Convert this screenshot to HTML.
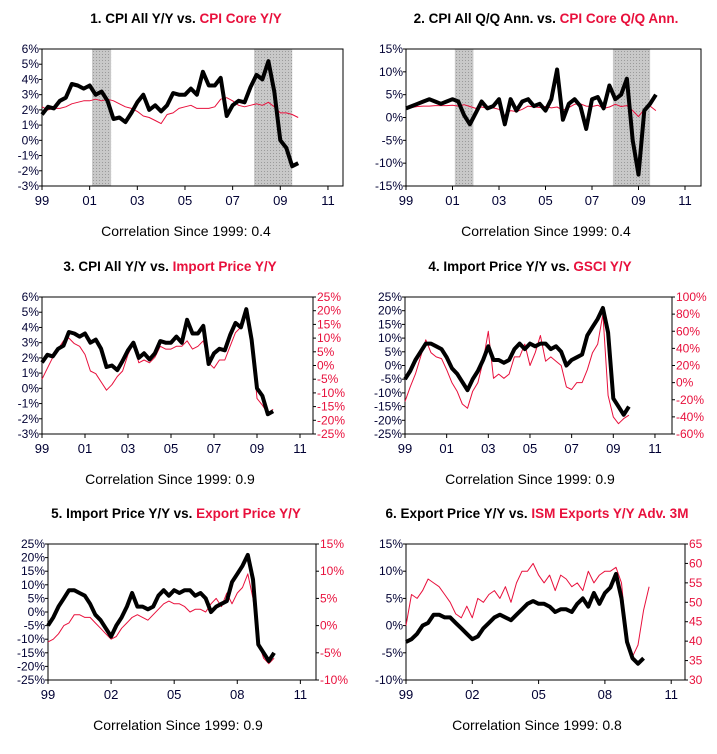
<!DOCTYPE html>
<html><head><meta charset="utf-8"><style>
body{margin:0;background:#fff;}
svg{display:block;font-family:"Liberation Sans",Arial,sans-serif;}
</style></head><body>
<svg id="c" width="717" height="754" viewBox="0 0 717 754">
<defs><pattern id="dots" width="3" height="3" patternUnits="userSpaceOnUse"><rect width="3" height="3" fill="#c8c8c8"/><rect width="1" height="1" fill="#9a9a9a"/></pattern></defs>
</svg>
<script>
// quarterly data starting 1999.0
const cpiAllYY=[1.7,2.2,2.1,2.6,2.8,3.7,3.6,3.4,3.6,3.0,3.2,2.6,1.4,1.5,1.2,1.8,2.5,3.0,2.0,2.3,1.9,2.3,3.1,3.0,3.0,3.4,3.0,4.5,3.6,3.6,4.1,1.6,2.3,2.6,2.5,3.5,4.3,4.0,5.2,3.2,0.0,-0.5,-1.7,-1.5];
const cpiCoreYY=[2.2,2.0,2.1,2.1,2.2,2.4,2.5,2.6,2.6,2.7,2.6,2.7,2.6,2.4,2.2,2.1,1.9,1.6,1.5,1.3,1.1,1.7,1.8,2.1,2.2,2.3,2.1,2.1,2.1,2.2,2.7,2.8,2.6,2.3,2.2,2.3,2.4,2.3,2.5,2.2,1.8,1.8,1.7,1.5];
const cpiAllQQ=[2.0,2.5,3.0,3.5,4.0,3.5,3.0,3.5,4.0,3.5,0.5,-1.5,1.0,3.5,2.0,2.5,4.0,-1.5,4.0,1.5,3.5,4.0,2.5,3.0,1.5,4.0,10.5,-0.5,3.0,4.0,2.5,-2.5,4.0,4.5,2.0,7.0,4.0,5.0,8.5,-5.0,-12.5,1.5,3.0,5.0];
const cpiCoreQQ=[2.3,2.2,2.4,2.5,2.5,2.6,2.6,2.6,2.7,2.5,2.8,2.4,2.0,2.3,2.0,2.1,1.8,0.5,1.5,1.3,1.8,2.5,2.3,2.2,2.4,2.1,2.3,1.6,2.2,2.9,3.0,2.5,2.4,2.7,2.0,2.3,2.9,2.4,2.6,1.5,0.2,1.8,2.5,1.5];
const importYY=[-5,-2,2,5,8,8,7,6,3,-1,-3,-6,-9,-5,-2,2,7,2,2,1,2,6,8,6,8,7,8,8,6,7,5,0,2,3,4,11,14,17,21,12,-12,-15,-18,-15];
const importYYalt=[-5,-1,3,6,9,10,8,7,4,-2,-3,-6,-9,-7,-4,-2,4,8,1,2,1,3,7,6,6,7,7,9,6,7,9,1,-1,2,2,7,12,14,21,10,-12,-14.5,-17.5,-16];
const gsciYY=[-22,-5,10,30,50,35,30,28,15,0,-10,-25,-30,-10,0,25,60,5,10,5,10,30,30,45,20,35,55,25,30,25,20,-5,-8,0,0,15,35,45,80,-15,-40,-48,-42,-38];
const exportYY=[-3,-2.5,-1.5,0,0.5,2,2,1.5,1.5,0.5,-0.5,-1.5,-2.5,-2,-0.5,0.5,1.5,2,1.5,1,2,3,4,4.5,4,4,3.5,2.5,3,3,2.5,4,5,3.5,6,4,6,7,9.5,5,-3,-6,-7,-6];
const ismExportsAdv=[44,52,51,53,56,55,54,52,50,47,46,49,46,51,50,52,53,51,54,50,55,58,58,60,57,55,57,53,57,56,54,55,53,58,55,57,58,58,59,55,40,36,39,48,54];
const pctTicks1=[-3,-2,-1,0,1,2,3,4,5,6];
const pctTicks15=[-15,-10,-5,0,5,10,15];
const pctTicks25=[-25,-20,-15,-10,-5,0,5,10,15,20,25];
const pctTicks60=[-60,-40,-20,0,20,40,60,80,100];
const pctTicks10=[-10,-5,0,5,10,15];
const ismTicks=[30,35,40,45,50,55,60,65];
const yearTicks2=[1999,2001,2003,2005,2007,2009,2011];
const yearTicks3=[1999,2002,2005,2008,2011];
const recessions=[[2001.1,2001.9],[2007.9,2009.5]];

const NS="http://www.w3.org/2000/svg";
const svg=document.getElementById('c');
const RED="#e8103c";
function el(tag,attrs,parent){const e=document.createElementNS(NS,tag);for(const k in attrs)e.setAttribute(k,attrs[k]);(parent||svg).appendChild(e);return e;}

function panel(p){
  const g=el('g',{});
  
  
  const xs=t=>p.L+(t-1999)*p.ppy;
  const yl=v=>p.B-(v-p.lmin)/(p.lmax-p.lmin)*(p.B-p.T);
  const yr=v=>p.B-(v-p.rmin)/(p.rmax-p.rmin)*(p.B-p.T);
  if(p.shade){recessions.forEach(r=>{const s=el('rect',{x:xs(r[0]),y:p.T,width:xs(r[1])-xs(r[0]),height:p.B-p.T,fill:'url(#dots)'},g);
    
    });}
  const fr=el('rect',{x:p.L,y:p.T,width:p.R-p.L,height:p.B-p.T,fill:'none',stroke:'#000','stroke-width':1},g);
  
  
  p.lticks.forEach(v=>{const y=yl(v);el('line',{x1:p.L-3,x2:p.L,y1:y,y2:y,stroke:'#000'},g);
    const t=el('text',{x:p.L-3,y:y+4,'text-anchor':'end','font-size':12,fill:'#000033'},g);t.textContent=v+'%';
    
    });
  if(p.rticks){p.rticks.forEach(v=>{const y=yr(v);el('line',{x1:p.R,x2:p.R+3,y1:y,y2:y,stroke:'#000'},g);
    const t=el('text',{x:p.R+4,y:y+4,'font-size':12,fill:RED},g);t.textContent=v+(p.rpct?'%':'');
    
    });}
  p.xticks.forEach(v=>{const x=xs(v);el('line',{x1:x,x2:x,y1:p.B,y2:p.B+4,stroke:'#000'},g);
    const t=el('text',{x:x,y:p.B+19,'text-anchor':'middle','font-size':13,fill:'#000033'},g);t.textContent=String(v).slice(2);
    
    });
  function line(data,yf,col,w,nm){const pts=data.map((v,i)=>xs(1999+i*0.25).toFixed(1)+','+yf(v).toFixed(1)).join(' ');
    const l=el('polyline',{points:pts,fill:'none',stroke:col,'stroke-width':w,'stroke-linejoin':'round'},g);
    
    }
  line(p.red,p.redRight?yr:yl,RED,1,p.redName);
  line(p.black,yl,'#000',4,p.blackName);
  const t=el('text',{x:p.tx,y:p.T-26,'text-anchor':'middle','font-size':13.5,'font-weight':'bold',fill:'#000'},g);
  
  
  const a=el('tspan',{},t);a.textContent=p.t1;const b=el('tspan',{fill:RED},t);b.textContent=p.t2;
  const f=el('text',{x:p.fx,y:p.B+50,'text-anchor':'middle','font-size':14,fill:'#000'},g);f.textContent=p.foot;
  
  
}
panel({name:'panel-1-cpi-yy',L:42,R:343,T:49,B:186,ppy:23.83,lmin:-3,lmax:6,lticks:pctTicks1,xticks:yearTicks2,shade:true,
  black:cpiAllYY,red:cpiCoreYY,blackName:'cpi-all-yy-line',redName:'cpi-core-yy-line',tx:186,fx:186,
  t1:'1. CPI All Y/Y vs. ',t2:'CPI Core Y/Y',foot:'Correlation Since 1999: 0.4'});
panel({name:'panel-2-cpi-qq',L:406,R:701,T:49,B:186,ppy:23.25,lmin:-15,lmax:15,lticks:pctTicks15,xticks:yearTicks2,shade:true,
  black:cpiAllQQ,red:cpiCoreQQ,blackName:'cpi-all-qq-line',redName:'cpi-core-qq-line',tx:546,fx:546,
  t1:'2. CPI All Q/Q Ann. vs. ',t2:'CPI Core Q/Q Ann.',foot:'Correlation Since 1999: 0.4'});
panel({name:'panel-3-cpi-import',L:42,R:313,T:297,B:434,ppy:21.5,lmin:-3,lmax:6,lticks:pctTicks1,rmin:-25,rmax:25,rticks:pctTicks25,rpct:true,xticks:yearTicks2,
  black:cpiAllYY,red:importYYalt,redRight:true,blackName:'cpi-all-yy-line',redName:'import-price-yy-line',tx:170,fx:170,
  t1:'3. CPI All Y/Y vs. ',t2:'Import Price Y/Y',foot:'Correlation Since 1999: 0.9'});
panel({name:'panel-4-import-gsci',L:405,R:672,T:297,B:434,ppy:20.83,lmin:-25,lmax:25,lticks:pctTicks25,rmin:-60,rmax:100,rticks:pctTicks60,rpct:true,xticks:yearTicks2,
  black:importYY,red:gsciYY,redRight:true,blackName:'import-price-yy-line',redName:'gsci-yy-line',tx:530,fx:530,
  t1:'4. Import Price Y/Y vs. ',t2:'GSCI Y/Y',foot:'Correlation Since 1999: 0.9'});
panel({name:'panel-5-import-export',L:48,R:316,T:544,B:680,ppy:21.03,lmin:-25,lmax:25,lticks:pctTicks25,rmin:-10,rmax:15,rticks:pctTicks10,rpct:true,xticks:yearTicks3,
  black:importYY,red:exportYY,redRight:true,blackName:'import-price-yy-line',redName:'export-price-yy-line',tx:176,fx:178,
  t1:'5. Import Price Y/Y vs. ',t2:'Export Price Y/Y',foot:'Correlation Since 1999: 0.9'});
panel({name:'panel-6-export-ism',L:406,R:685,T:544,B:680,ppy:22.1,lmin:-10,lmax:15,lticks:pctTicks10,rmin:30,rmax:65,rticks:ismTicks,rpct:false,xticks:yearTicks3,
  black:exportYY,red:ismExportsAdv,redRight:true,blackName:'export-price-yy-line',redName:'ism-exports-line',tx:537,fx:537,
  t1:'6. Export Price Y/Y vs. ',t2:'ISM Exports Y/Y Adv. 3M',foot:'Correlation Since 1999: 0.8'});
</script>
</body></html>
